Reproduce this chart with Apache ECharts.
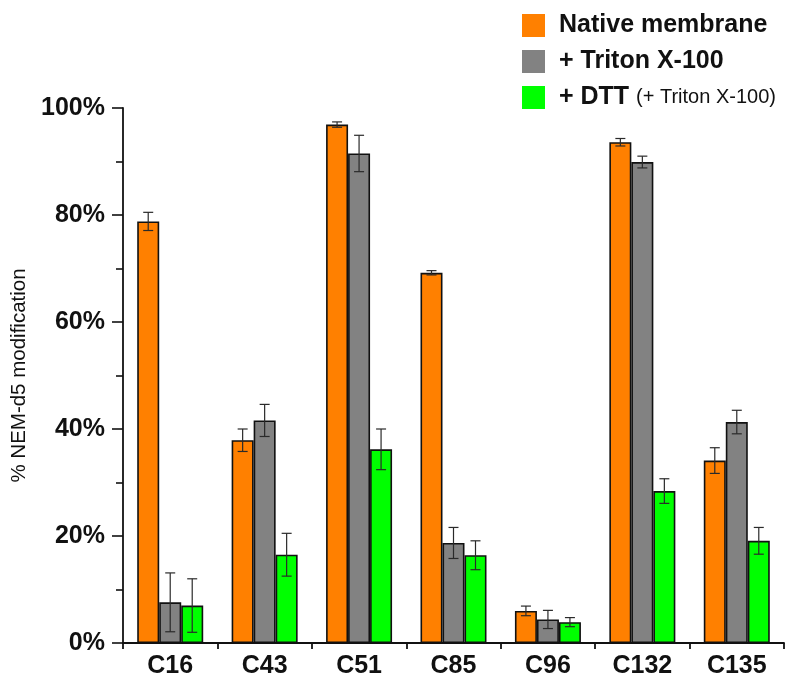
<!DOCTYPE html>
<html>
<head>
<meta charset="utf-8">
<script src="https://cdn.jsdelivr.net/npm/echarts@6/dist/echarts.min.js"></script>
<style>html,body{margin:0;padding:0;background:#fff}#c{width:800px;height:692px}</style>
</head>
<body>
<div id="c"></div>
<script>
const categories = ['C16', 'C43', 'C51', 'C85', 'C96', 'C132', 'C135'];
const seriesNames = ['Native membrane', '+ Triton X-100', '+ DTT (+ Triton X-100)'];
const nativeValues = [78.8, 37.9, 96.9, 69.2, 6.0, 93.6, 34.1];
const nativeErrors = [1.7, 2.1, 0.5, 0.4, 0.9, 0.7, 2.4];
const tritonValues = [7.6, 41.6, 91.5, 18.7, 4.4, 89.9, 41.3];
const tritonErrors = [5.5, 3.0, 3.4, 2.9, 1.7, 1.1, 2.2];
const dttValues = [7.0, 16.5, 36.2, 16.4, 3.9, 28.4, 19.1];
const dttErrors = [5.0, 4.0, 3.8, 2.7, 0.85, 2.3, 2.5];
const yTicks = [0, 20, 40, 60, 80, 100];

const colors = ['#FF8000', '#828282', '#00FF00'];
const FONT = 'Liberation Sans, Arial, Helvetica, sans-serif';
const BAR_W = 22;

const allValues = [nativeValues, tritonValues, dttValues];
const allErrors = [nativeErrors, tritonErrors, dttErrors];

const chart = echarts.init(document.getElementById('c'), null, {renderer: 'canvas'});

const barSeries = seriesNames.map((name, i) => ({
  name: name,
  type: 'bar',
  data: allValues[i],
  barWidth: BAR_W,
  barGap: '0%',
  itemStyle: {color: colors[i], borderColor: '#111', borderWidth: 1.6},
  z: 2
}));

const errSeries = seriesNames.map((name, i) => ({
  type: 'custom',
  name: name + ' err',
  data: allValues[i].map((v, k) => [k, v, allErrors[i][k]]),
  z: 5,
  silent: true,
  renderItem: function (params, api) {
    const k = api.value(0), v = api.value(1), e = api.value(2);
    const off = (i - 1) * BAR_W;
    const hi = api.coord([k, v + e]);
    const lo = api.coord([k, v - e]);
    const x = hi[0] + off;
    const cap = 5;
    const st = {stroke: '#2a2a2a', lineWidth: 1.2};
    return {
      type: 'group',
      children: [
        {type: 'line', shape: {x1: x, y1: hi[1], x2: x, y2: lo[1]}, style: st},
        {type: 'line', shape: {x1: x - cap, y1: hi[1], x2: x + cap, y2: hi[1]}, style: st},
        {type: 'line', shape: {x1: x - cap, y1: lo[1], x2: x + cap, y2: lo[1]}, style: st}
      ]
    };
  }
}));

chart.setOption({
  animation: false,
  backgroundColor: '#fff',
  grid: {left: 123, right: 16, top: 108, bottom: 49, containLabel: false},
  legend: {
    data: seriesNames,
    orient: 'vertical',
    left: 517,
    top: 8,
    itemWidth: 23,
    itemHeight: 23,
    itemGap: 11,
    icon: 'rect',
    itemStyle: {borderWidth: 0},
    textStyle: {
      fontFamily: FONT, fontSize: 25, fontWeight: 'bold', color: '#111',
      lineHeight: 23,
      padding: [0, 0, 0, 9],
      rich: {
        b: {fontFamily: FONT, fontSize: 25, fontWeight: 'bold', color: '#111', lineHeight: 23},
        r: {fontFamily: FONT, fontSize: 20, fontWeight: 'normal', color: '#111', lineHeight: 23}
      }
    },
    formatter: function (name) {
      if (name.indexOf('(') > 0) {
        const p = name.indexOf('(');
        return '{b|' + name.slice(0, p - 1) + '} {r|' + name.slice(p) + '}';
      }
      return name;
    }
  },
  xAxis: {
    type: 'category',
    data: categories,
    axisLine: {lineStyle: {color: '#111', width: 1.8}},
    axisTick: {show: true, length: 6, lineStyle: {color: '#111', width: 1.8}},
    axisLabel: {fontFamily: FONT, fontSize: 25, fontWeight: 'bold', color: '#111', margin: 11},
    splitLine: {show: false}
  },
  yAxis: {
    type: 'value',
    min: yTicks[0],
    max: yTicks[yTicks.length - 1],
    interval: 20,
    name: '% NEM-d5 modification',
    nameLocation: 'middle',
    nameGap: 86,
    nameTextStyle: {fontFamily: FONT, fontSize: 20.5, color: '#111'},
    axisLine: {show: true, lineStyle: {color: '#111', width: 1.8}},
    axisTick: {show: true, length: 11, lineStyle: {color: '#111', width: 1.6}},
    minorTick: {show: true, splitNumber: 2, length: 7, lineStyle: {color: '#111', width: 1.6}},
    axisLabel: {fontFamily: FONT, fontSize: 25, fontWeight: 'bold', color: '#111', margin: 18, formatter: '{value}%'},
    splitLine: {show: false}
  },
  series: barSeries.concat(errSeries)
});
</script>
</body>
</html>
